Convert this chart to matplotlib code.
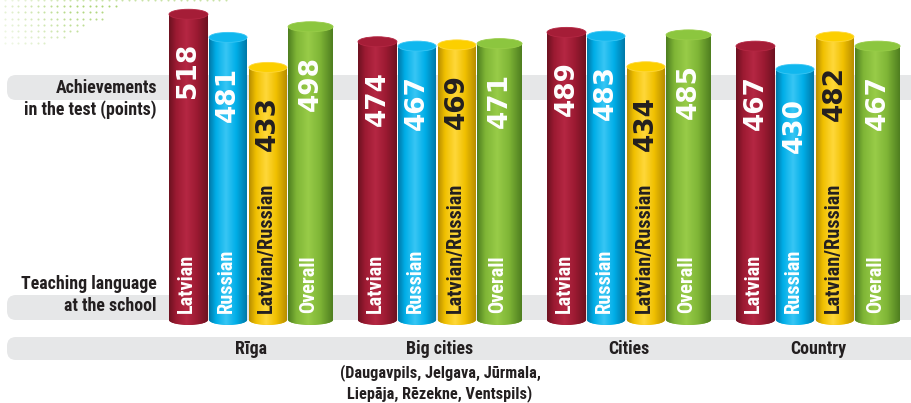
import numpy as np
import matplotlib
matplotlib.use("Agg")
import matplotlib.pyplot as plt
from matplotlib import font_manager
from matplotlib.font_manager import FontProperties
from matplotlib.patches import Ellipse, FancyBboxPatch
from matplotlib.colors import LinearSegmentedColormap
from matplotlib.textpath import TextPath

installed = {f.name for f in font_manager.fontManager.ttflist}
FONT = "Liberation Sans"
for cand in ["Roboto Condensed", "Liberation Sans Narrow", "Open Sans Condensed",
             "Noto Sans Condensed", "DejaVu Sans Condensed", "Roboto"]:
    if cand in installed:
        FONT = cand
        break

regions = ["Rīga", "Big cities", "Cities", "Country"]
region_notes = ["", "(Daugavpils, Jelgava, Jūrmala,\nLiepāja, Rēzekne, Ventspils)", "", ""]
languages = ["Latvian", "Russian", "Latvian/Russian", "Overall"]
row_labels = [("Achievements", "in the test (points)"), ("Teaching language", "at the school")]

latvian = [518, 474, 489, 467]
russian = [481, 467, 483, 430]
mixed = [433, 469, 434, 482]
overall = [498, 471, 485, 467]
series = [latvian, russian, mixed, overall]

# (dark, base, light, top) per language
palette = [
    ("#6e1221", "#9c1a32", "#b52743", "#a51d37"),
    ("#0079a8", "#00aee8", "#38c6f4", "#10b7ee"),
    ("#b88e00", "#f0c000", "#ffd83a", "#fccf00"),
    ("#4f7f20", "#7fb536", "#98cc48", "#8cc63f"),
]
text_colors = ["white", "white", "#231f20", "white"]
DARK = "#231f20"

offsets = [0.0, 0.212, 0.423, 0.630]
widths = [0.206, 0.201, 0.201, 0.238]
BASE = 29
CAP = 16


def fit_size(text, width_px, weight="bold"):
    # font size (pt) giving the wanted rendered width at 100 dpi
    prop = FontProperties(family=FONT, weight=weight)
    w = TextPath((0, 0), text, size=10, prop=prop).get_extents().width
    return 10 * width_px / w * 0.72


label_size = min(fit_size("in the test (points)", 131), 14)
bar_size = min(fit_size("Latvian/Russian", 128), 15)
note_size = min(fit_size("(Daugavpils, Jelgava, Jūrmala,", 198), 12)

fig = plt.figure(figsize=(9.12, 4.03), dpi=100)
ax = fig.add_axes([0, 0, 1, 1])
ax.axis("off")
inch = fig.dpi_scale_trans


def px(x, y):
    return x / 100, (403 - y) / 100


# grey bands
for y0, y1 in [(75, 100), (295, 320), (337, 360)]:
    x0, yb = px(7, y1)
    band = FancyBboxPatch((x0, yb), 10, (y1 - y0) / 100,
                          boxstyle="round,pad=0,rounding_size=0.09",
                          transform=inch, facecolor="#e6e7e8",
                          edgecolor="none", zorder=0)
    ax.add_patch(band)

# decorative dots
row_ends = [232, 118, 108, 104, 88, 80, 68, 50]
for r, xmax in enumerate(row_ends):
    yy = r * 6.2
    xs = np.arange(5, xmax, 6.5)
    alpha = np.clip(0.25 + xs / 110, 0.2, 0.9) * (1 - r * 0.07)
    if r == 0:
        alpha = alpha * 0.6
    for xx, a in zip(xs, alpha):
        ax.scatter(*px(xx, yy), s=2.2, color="#9ccc5c", alpha=a, lw=0,
                   transform=inch, zorder=1)


def fill_gradient(patch, cmap, x0, x1, y0, y1, z):
    grad = np.linspace(0, 1, 64).reshape(1, -1)
    im = ax.imshow(grad, extent=[x0, x1, y0, y1], cmap=cmap, aspect="auto",
                   origin="lower", zorder=z, interpolation="bilinear")
    im.set_clip_path(patch)


for k, vals in enumerate(series):
    dark, base, light, top = palette[k]
    cmap = LinearSegmentedColormap.from_list(
        "c%d" % k, [(0, dark), (0.18, base), (0.45, light), (0.72, base), (1, dark)])
    xs = np.arange(len(regions)) + offsets[k] + widths[k] / 2
    bars = ax.bar(xs, np.array(vals) - BASE, widths[k], bottom=BASE,
                  color=base, zorder=2)
    for x, v, rect in zip(xs, vals, bars):
        w = widths[k]
        bottom = Ellipse((x, BASE), w, CAP, facecolor=base, edgecolor="none", zorder=2)
        ax.add_patch(bottom)
        fill_gradient(bottom, cmap, x - w / 2, x + w / 2, BASE - CAP, BASE + CAP, 2.1)
        fill_gradient(rect, cmap, x - w / 2, x + w / 2, BASE, v, 2.2)
        ax.add_patch(Ellipse((x, v), w, CAP, facecolor=top,
                             edgecolor=light, lw=0.6, zorder=2.3))
        ax.annotate(str(v), (x, v), xytext=(0, -29), textcoords="offset pixels",
                    rotation=90, ha="center", va="top", fontsize=19,
                    fontweight="bold", color=text_colors[k], zorder=3)
        ax.annotate(languages[k], (x, BASE), xytext=(-2, 7), textcoords="offset pixels",
                    rotation=90, ha="center", va="bottom", fontsize=bar_size,
                    fontweight="bold", family=FONT, color=text_colors[k], zorder=3)

# row labels
label_kw = dict(transform=inch, ha="right", va="center", fontsize=label_size,
                fontweight="bold", family=FONT, color=DARK)
for (first, second), yc in zip(row_labels, [88, 284]):
    ax.text(*px(157, yc), first, **label_kw)
    ax.text(*px(157, yc + 22), second, **label_kw)

# region labels under the groups
xy_trans = ax.get_xaxis_transform()
for g, name in enumerate(regions):
    gx = g + (offsets[-1] + widths[-1]) / 2
    ax.text(gx, 1 - 349 / 403, name, ha="center", va="center", fontsize=label_size,
            fontweight="bold", family=FONT, color=DARK, transform=xy_trans)
    if region_notes[g]:
        ax.text(gx, 1 - 383 / 403, region_notes[g], ha="center", va="center",
                fontsize=note_size, fontweight="bold", family=FONT, color=DARK,
                linespacing=1.25, transform=xy_trans)

ax.set_xlim(-169 / 189, (912 - 169) / 189)
ax.set_ylim(-104, 540.8)

fig.savefig("out.png", dpi=100)
